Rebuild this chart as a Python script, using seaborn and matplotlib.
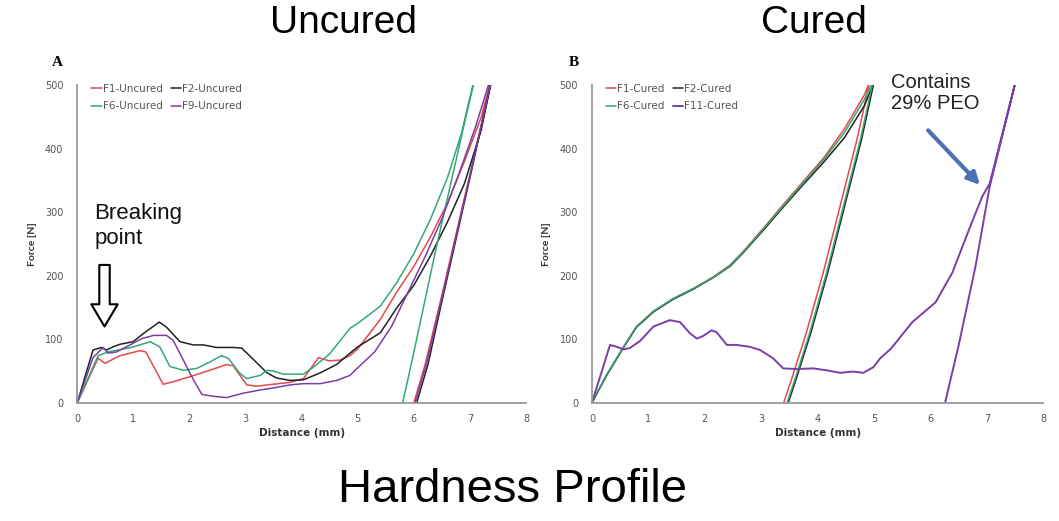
import numpy as np
import pandas as pd
import matplotlib.pyplot as plt
import seaborn as sns

# ---- Uncured (panel A) ----
f1_u_x = [0, 0.37, 0.49, 0.76, 1.12, 1.22, 1.53, 1.71, 2.01, 2.36, 2.66, 2.78, 3.02, 3.20, 3.49, 3.79,
          4.03, 4.30, 4.48, 4.68, 4.86, 5.0, 5.4, 5.7, 6.0, 6.3, 6.6, 6.9, 7.2, 7.45,
          7.0, 6.5, 6.2, 6.0]
f1_u_y = [0, 70, 62, 74, 82, 80, 29, 33, 41, 51, 60, 58, 28, 26, 29, 32,
          38, 71, 66, 67, 74, 85, 131, 175, 215, 262, 315, 380, 450, 535,
          360, 170, 60, 0]

f2_u_x = [0, 0.28, 0.43, 0.52, 0.64, 0.76, 0.99, 1.18, 1.46, 1.59, 1.83, 2.07, 2.25, 2.48, 2.78, 2.93,
          3.14, 3.38, 3.55, 3.79, 4.03, 4.33, 4.62, 4.86, 5.0, 5.4, 5.7, 6.0, 6.3, 6.6, 6.9, 7.2, 7.45,
          7.0, 6.5, 6.25, 6.05]
f2_u_y = [0, 83, 87, 83, 88, 92, 96, 109, 127, 119, 96, 91, 91, 87, 87, 86,
          68, 47, 39, 35, 36, 47, 60, 78, 88, 110, 150, 185, 232, 285, 345, 430, 535,
          355, 160, 60, 0]

f6_u_x = [0, 0.37, 0.55, 0.8, 1.0, 1.30, 1.47, 1.65, 1.89, 2.13, 2.36, 2.57, 2.69, 2.90, 3.02, 3.26,
          3.38, 3.49, 3.67, 4.03, 4.21, 4.50, 4.86, 5.0, 5.4, 5.7, 6.0, 6.3, 6.6, 6.85, 7.05, 7.15,
          6.9, 6.4, 6.0, 5.8]
f6_u_y = [0, 74, 80, 84, 88, 96, 88, 57, 51, 54, 64, 74, 70, 46, 38, 43,
          51, 50, 45, 45, 56, 77, 117, 125, 152, 190, 235, 290, 355, 425, 500, 535,
          440, 245, 80, 0]

f9_u_x = [0, 0.28, 0.46, 0.55, 0.70, 0.94, 1.15, 1.36, 1.59, 1.71, 1.89, 2.07, 2.22, 2.43, 2.66, 2.96,
          3.26, 3.55, 3.79, 4.03, 4.33, 4.62, 4.86, 5.0, 5.3, 5.6, 5.9, 6.2, 6.5, 6.8, 7.1, 7.45,
          7.0, 6.5, 6.22, 6.02]
f9_u_y = [0, 71, 87, 78, 80, 91, 101, 106, 106, 98, 67, 36, 13, 10, 8, 15,
          20, 24, 28, 30, 30, 35, 43, 55, 80, 120, 175, 230, 290, 360, 435, 535,
          358, 165, 60, 0]

# ---- Cured (panel B) ----
f1_c_x = [0, 0.26, 0.56, 0.79, 1.09, 1.44, 1.80, 2.15, 2.45, 2.68, 3.06, 3.41, 3.77, 4.12, 4.48, 4.83, 4.92,
          4.7, 4.4, 4.1, 3.8, 3.55, 3.40]
f1_c_y = [0, 44, 88, 120, 144, 164, 180, 198, 217, 238, 277, 314, 351, 387, 432, 485, 505,
          415, 310, 205, 110, 40, 0]

f2_c_x = [0, 0.26, 0.56, 0.79, 1.09, 1.44, 1.80, 2.15, 2.45, 2.68, 3.06, 3.41, 3.77, 4.12, 4.48, 4.83, 5.0,
          4.78, 4.48, 4.18, 3.88, 3.63, 3.48]
f2_c_y = [0, 43, 87, 119, 143, 163, 179, 197, 215, 236, 274, 310, 346, 380, 418, 468, 505,
          415, 310, 205, 110, 40, 0]

f6_c_x = [0, 0.26, 0.56, 0.79, 1.09, 1.44, 1.80, 2.15, 2.45, 2.68, 3.06, 3.41, 3.77, 4.12, 4.48, 4.83, 4.98,
          4.76, 4.46, 4.16, 3.86, 3.61, 3.46]
f6_c_y = [0, 44, 88, 120, 144, 164, 180, 197, 216, 237, 276, 312, 349, 384, 426, 478, 505,
          415, 310, 205, 110, 40, 0]

f11_c_x = [0, 0.32, 0.44, 0.56, 0.67, 0.85, 1.09, 1.38, 1.56, 1.74, 1.86, 1.97, 2.12, 2.21, 2.39, 2.56,
           2.80, 2.98, 3.21, 3.39, 3.63, 3.92, 4.16, 4.40, 4.63, 4.81, 4.99, 5.11, 5.30, 5.68, 6.09, 6.39,
           6.69, 6.92, 7.05, 7.3, 7.55,
           7.05, 6.8, 6.5, 6.26]
f11_c_y = [0, 91, 88, 84, 86, 97, 120, 130, 127, 109, 101, 105, 114, 111, 91, 91,
           88, 83, 70, 54, 53, 54, 51, 47, 49, 47, 56, 70, 85, 127, 158, 205,
           274, 325, 345, 432, 520,
           340, 215, 90, 0]

uncured_labels = ["F1-Uncured", "F2-Uncured", "F6-Uncured", "F9-Uncured"]
cured_labels = ["F1-Cured", "F2-Cured", "F6-Cured", "F11-Cured"]
x_ticks = [0, 1, 2, 3, 4, 5, 6, 7, 8]
y_ticks = [0, 100, 200, 300, 400, 500]

colors = ["#e5484d", "#222222", "#35a874", "#7a3fa6"]

sns.set_style("white")
plt.rcParams['font.family'] = ['Liberation Sans', 'DejaVu Sans']

fig = plt.figure(figsize=(10.59, 5.21), dpi=100)
ax1 = fig.add_axes([0.0730, 0.2271, 0.4238, 0.6092])
ax2 = fig.add_axes([0.5590, 0.2271, 0.4261, 0.6092])


def draw_panel(ax, curves, labels, widths):
    for (x, y), c, lab, w in zip(curves, colors, labels, widths):
        sns.lineplot(x=x, y=y, sort=False, estimator=None, color=c, lw=w, label=lab, ax=ax)
    ax.set_xlim(0, 8)
    ax.set_ylim(0, 500)
    ax.set_xticks(x_ticks)
    ax.set_yticks(y_ticks)
    ax.tick_params(axis='both', labelsize=7, labelcolor='#555555', color='#999999',
                   direction='inout', length=4, width=1)
    ax.tick_params(axis='y', pad=8)
    ax.tick_params(axis='x', pad=6)
    for lab in ax.get_xticklabels() + ax.get_yticklabels():
        lab.set_family('DejaVu Sans')
    for s in ['top', 'right']:
        ax.spines[s].set_visible(False)
    for s in ['left', 'bottom']:
        ax.spines[s].set_color('#999999')
        ax.spines[s].set_linewidth(1.3)
    ax.set_xlabel("Distance (mm)", fontsize=7.5, fontweight='bold', family='DejaVu Sans',
                  color='#333333', labelpad=3)
    ax.set_ylabel("Force [N]", fontsize=7.5, fontweight='bold', family='Lato',
                  color='#333333', labelpad=6)
    h, l = ax.get_legend_handles_labels()
    order = [0, 2, 1, 3]
    ax.legend([h[i] for i in order], [l[i] for i in order], ncol=2, frameon=False,
              loc='upper left', bbox_to_anchor=(0.01, 1.035), prop={'family': 'DejaVu Sans', 'size': 7.5},
              labelcolor='#555555', handlelength=1.0, handletextpad=0.1, columnspacing=0.8,
              labelspacing=0.75)


draw_panel(ax1, [(f1_u_x, f1_u_y), (f2_u_x, f2_u_y), (f6_u_x, f6_u_y), (f9_u_x, f9_u_y)],
           uncured_labels, [1.1, 1.1, 1.1, 1.1])
draw_panel(ax2, [(f1_c_x, f1_c_y), (f2_c_x, f2_c_y), (f6_c_x, f6_c_y), (f11_c_x, f11_c_y)],
           cured_labels, [1.1, 1.1, 1.1, 1.4])

# hollow arrow: breaking point
ax1.annotate('', xy=(0.485, 120), xytext=(0.485, 217),
             arrowprops=dict(arrowstyle='simple,head_width=1.9,head_length=1.6,tail_width=0.75',
                             fc='white', ec='black', lw=1.5, shrinkA=0, shrinkB=0))
ax1.text(0.30, 314, "Breaking\npoint", fontsize=16, va='top', ha='left', linespacing=1.2, color='#111111')

# blue arrow: PEO
ax2.annotate('', xy=(6.88, 343), xytext=(5.96, 429),
             arrowprops=dict(arrowstyle='-|>,head_width=0.3,head_length=0.6', color='#4a72b5',
                             lw=3, shrinkA=0, shrinkB=0, mutation_scale=12), annotation_clip=False)
ax2.text(5.30, 519, "Contains\n29% PEO", fontsize=14.5, va='top', ha='left', linespacing=1.15,
         color='#222222', clip_on=False)

fig.text(0.049, 0.873, "A", fontsize=11, fontweight='bold', family='Liberation Serif', color='black')
fig.text(0.537, 0.873, "B", fontsize=11, fontweight='bold', family='Liberation Serif', color='black')

fig.text(0.324, 0.956, "Uncured", fontsize=28, ha='center', va='center', color='black')
fig.text(0.769, 0.956, "Cured", fontsize=28, ha='center', va='center', color='black')
fig.text(0.4844, 0.06, "Hardness Profile", fontsize=34, ha='center', va='center', color='black')

fig.savefig("out.png", dpi=100, facecolor='white')
